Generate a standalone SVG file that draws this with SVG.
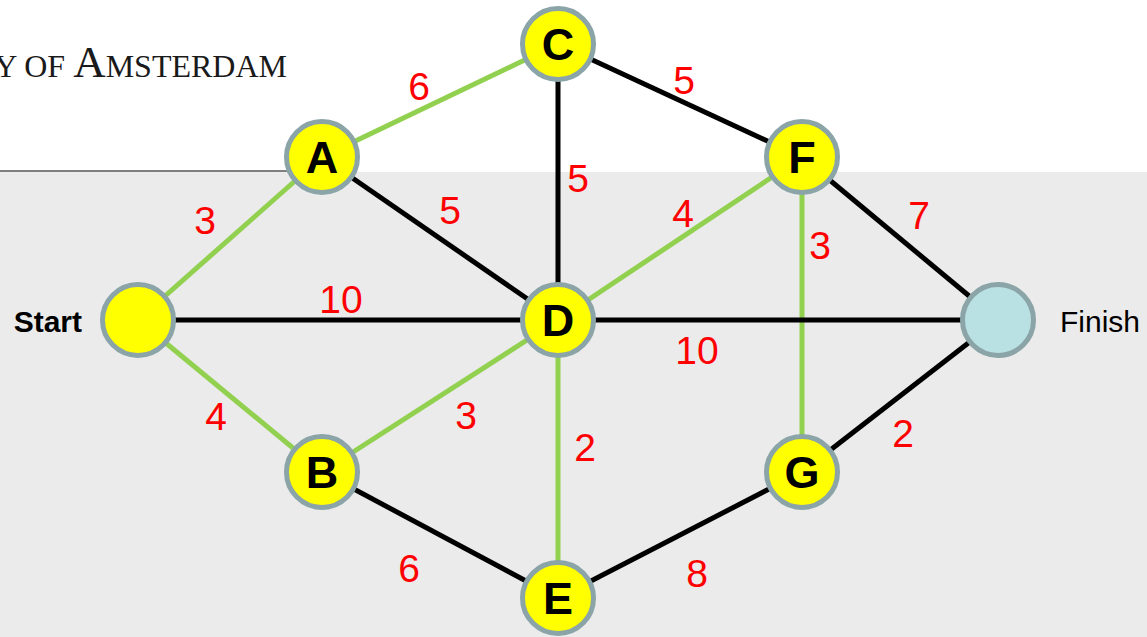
<svg xmlns="http://www.w3.org/2000/svg" width="1147" height="637" viewBox="0 0 1147 637">
<style>
.g{stroke:#92d050;stroke-width:5;fill:none}
.k{stroke:#000;stroke-width:5;fill:none}
.n{fill:#ffff00;stroke:#8aa4a8;stroke-width:5}
.f{fill:#b9e0e3;stroke:#8aa4a8;stroke-width:5}
.nl{font-family:"Liberation Sans",Arial,sans-serif;font-weight:bold;font-size:45px;fill:#000;text-anchor:middle;dominant-baseline:central}
.w{font-family:"Liberation Sans",Arial,sans-serif;font-size:39px;fill:#ff0000;text-anchor:middle;dominant-baseline:central}
</style>
<rect x="0" y="0" width="1147" height="637" fill="#ffffff"/>
<rect x="0" y="172" width="1147" height="465" fill="#ebebeb"/>
<line x1="0" y1="171" x2="292" y2="171" stroke="#555" stroke-width="1.5"/>
<text x="287" y="77" text-anchor="end" font-family="Liberation Serif,'Times New Roman',serif" fill="#1a1a1a" font-size="32">Y OF <tspan font-size="45">A</tspan>MSTERDAM</text>
<g id="edges">
<line class="g" x1="138" y1="320" x2="322" y2="157"/>
<line class="k" x1="138" y1="320" x2="558" y2="320"/>
<line class="g" x1="138" y1="320" x2="322" y2="472"/>
<line class="g" x1="322" y1="157" x2="558" y2="44"/>
<line class="k" x1="322" y1="157" x2="558" y2="320"/>
<line class="k" x1="558" y1="44" x2="558" y2="320"/>
<line class="k" x1="558" y1="44" x2="802" y2="157"/>
<line class="g" x1="558" y1="320" x2="802" y2="157"/>
<line class="g" x1="802" y1="157" x2="802" y2="472"/>
<line class="k" x1="802" y1="157" x2="998" y2="320"/>
<line class="k" x1="558" y1="320" x2="998" y2="320"/>
<line class="g" x1="558" y1="320" x2="322" y2="472"/>
<line class="g" x1="558" y1="320" x2="558" y2="598"/>
<line class="k" x1="322" y1="472" x2="558" y2="598"/>
<line class="k" x1="558" y1="598" x2="802" y2="472"/>
<line class="k" x1="802" y1="472" x2="998" y2="320"/>
</g>
<g id="weights">
<text class="w" x="419" y="86">6</text>
<text class="w" x="684" y="80">5</text>
<text class="w" x="578" y="178">5</text>
<text class="w" x="450" y="210">5</text>
<text class="w" x="205" y="220">3</text>
<text class="w" x="683" y="213">4</text>
<text class="w" x="919" y="215">7</text>
<text class="w" x="820" y="245">3</text>
<text class="w" x="341" y="299">10</text>
<text class="w" x="697" y="350">10</text>
<text class="w" x="216" y="416">4</text>
<text class="w" x="466" y="415">3</text>
<text class="w" x="585" y="447">2</text>
<text class="w" x="903" y="433">2</text>
<text class="w" x="409" y="568">6</text>
<text class="w" x="697" y="573">8</text>
</g>
<g id="start"><circle class="n" cx="138" cy="320" r="35.5"/><text x="82" y="321" text-anchor="end" dominant-baseline="central" font-family="Liberation Sans,Arial,sans-serif" font-weight="bold" font-size="30">Start</text></g>
<g id="finish"><circle class="f" cx="998" cy="320" r="35.5"/><text x="1060" y="321" dominant-baseline="central" font-family="Liberation Sans,Arial,sans-serif" font-size="30">Finish</text></g>
<g id="A"><circle class="n" cx="322" cy="157" r="35.5"/><text class="nl" x="322" y="157">A</text></g>
<g id="B"><circle class="n" cx="322" cy="472" r="35.5"/><text class="nl" x="322" y="472">B</text></g>
<g id="C"><circle class="n" cx="558" cy="44" r="35.5"/><text class="nl" x="558" y="44">C</text></g>
<g id="D"><circle class="n" cx="558" cy="320" r="35.5"/><text class="nl" x="558" y="320">D</text></g>
<g id="E"><circle class="n" cx="558" cy="598" r="35.5"/><text class="nl" x="558" y="598">E</text></g>
<g id="F"><circle class="n" cx="802" cy="157" r="35.5"/><text class="nl" x="802" y="157">F</text></g>
<g id="G"><circle class="n" cx="802" cy="472" r="35.5"/><text class="nl" x="802" y="472">G</text></g>
</svg>
